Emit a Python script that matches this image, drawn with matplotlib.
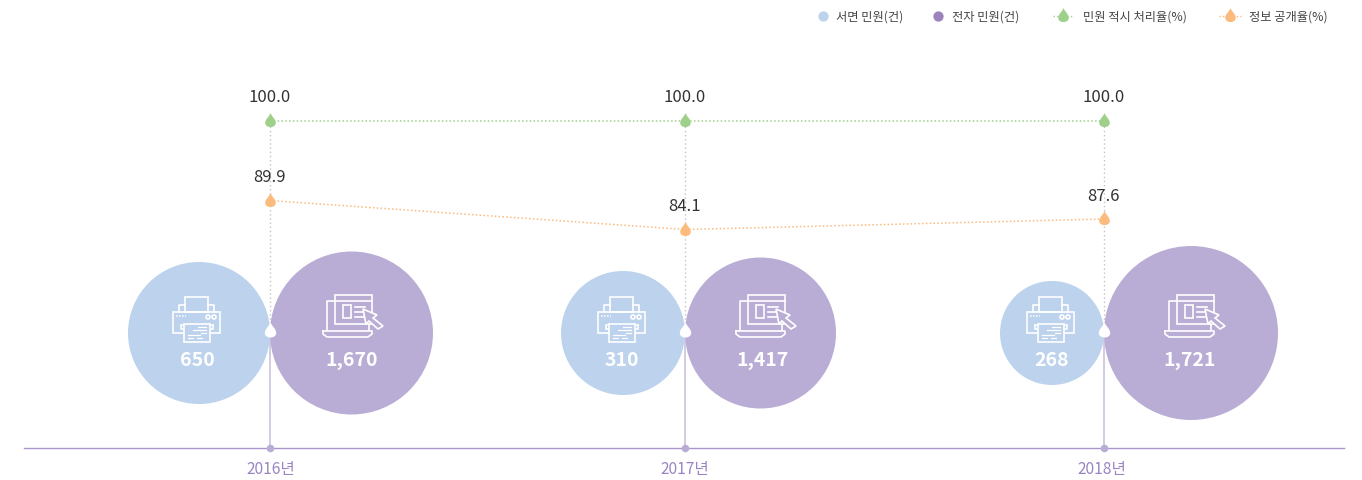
import numpy as np
import matplotlib
matplotlib.use("Agg")
import matplotlib.pyplot as plt
from matplotlib.patches import Circle, Polygon, Rectangle
from matplotlib.path import Path

plt.rcParams["font.family"] = ["Noto Sans CJK KR", "DejaVu Sans"]

# datos
years = ["2016년", "2017년", "2018년"]
paper = [650, 310, 268]
electronic = [1670, 1417, 1721]
on_time = [100.0, 100.0, 100.0]
disclosure = [89.9, 84.1, 87.6]

# colores
c_paper = "#bcd2ed"
c_elec = "#baadd5"
c_green = "#9fd08a"
c_orange = "#fbbb7e"
c_axis = "#ab94cb"
c_year = "#9a84c1"

# posiciones en pixeles de cada grupo
x_pos = [270, 685, 1104]
year_x = [271, 685, 1102]
base_y = 448
mid_y = 331
printer_x = [173, 598, 1027]
laptop_x = [323, 736, 1165]
paper_text_x = [197, 622, 1052]
elec_text_x = [352, 762, 1190]

# escalas (no lineales en el original)
radius_knots = ([268, 310, 650, 1417, 1670, 1721], [52, 62, 71, 75.5, 81.5, 87])
pct_vals = np.array([60, 84.1, 87.6, 89.9, 100, 115])
pct_px = np.array([481, 230.5, 220, 201.5, 121.5, 0])


def pct_forward(v):
    return -np.interp(v, pct_vals, pct_px)


def pct_inverse(p):
    return np.interp(p, -pct_px, pct_vals)


# gota con la punta hacia arriba, el punto de datos cae en el bulbo
drop = Path(
    [(0, 0.6), (-0.1, 0.36), (-0.38, 0.16), (-0.38, -0.1),
     (-0.38, -0.3), (-0.2, -0.4), (0, -0.4),
     (0.2, -0.4), (0.38, -0.3), (0.38, -0.1),
     (0.38, 0.16), (0.1, 0.36), (0, 0.6), (0, 0.6)],
    [Path.MOVETO, Path.CURVE4, Path.CURVE4, Path.CURVE4,
     Path.CURVE4, Path.CURVE4, Path.CURVE4,
     Path.CURVE4, Path.CURVE4, Path.CURVE4,
     Path.CURVE4, Path.CURVE4, Path.CURVE4, Path.CLOSEPOLY],
)


def draw_printer(ax, x0):
    kw = dict(fill=False, ec="white", lw=1.2, zorder=5)
    ax.add_patch(Rectangle((x0 + 12, 297), 23, 15, **kw))
    ax.plot([x0 + 6, x0 + 6, x0 + 12], [312, 305, 305], color="white", lw=1.2, zorder=5)
    ax.plot([x0 + 35, x0 + 41, x0 + 41], [305, 305, 312], color="white", lw=1.2, zorder=5)
    ax.add_patch(Rectangle((x0, 312), 47, 21, **kw))
    ax.add_patch(Rectangle((x0 + 8, 325), 32, 4, **kw))
    ax.add_patch(Rectangle((x0 + 11, 324), 26, 18, fc=c_paper, ec="white", lw=1.2, zorder=6))
    for dx in (35, 41):
        ax.add_patch(Circle((x0 + dx, 317), 2, **kw))
    ax.plot([x0 + 3, x0 + 13], [316, 316], color="white", lw=1.1, ls=(0, (1, 1)), zorder=5)
    for xa, xb, y in [(25, 33, 327), (20, 33, 330), (28, 33, 333), (15, 27, 335), (15, 20, 338), (24, 29, 338)]:
        ax.plot([x0 + xa, x0 + xb], [y, y], color="white", lw=0.9, zorder=7)


def draw_laptop(ax, x0):
    lw = 1.2
    ax.plot([x0 + 12, x0 + 4, x0 + 4], [301, 301, 330], color="white", lw=lw, zorder=5)
    ax.plot([x0 + 46, x0 + 46], [324, 330], color="white", lw=lw, zorder=5)
    ax.plot([x0, x0 + 49, x0 + 49, x0 + 45, x0 + 4, x0, x0],
            [331, 331, 334, 337, 337, 334, 331], color="white", lw=lw, zorder=5)
    ax.add_patch(Rectangle((x0 + 12, 294.5), 37, 29.5, fc=c_elec, ec="white", lw=lw, zorder=5))
    ax.plot([x0 + 12, x0 + 49], [301, 301], color="white", lw=lw, zorder=6)
    ax.add_patch(Rectangle((x0 + 20, 305), 8, 13, fill=False, ec="white", lw=lw, zorder=6))
    for y, xb in [(307, 42), (312, 42), (317, 42)]:
        ax.plot([x0 + 32, x0 + xb], [y, y], color="white", lw=lw, zorder=6)
    arrow = [(40, 309), (54, 315), (50, 318), (60, 326), (55, 329), (46, 321), (43, 324)]
    ax.add_patch(Polygon([(x0 + a, b) for a, b in arrow], closed=True, fc=c_elec, ec="white", lw=lw, zorder=7))


fig = plt.figure(figsize=(13.62, 4.81), dpi=100)
ax = fig.add_axes([0, 0, 1, 1])
ax.set_xlim(0, 1362)
ax.set_ylim(480, -1)
ax.axis("off")

# guias y eje
ax.plot([24, 1344], [base_y, base_y], color=c_axis, lw=1, zorder=1)
for i, x in enumerate(x_pos):
    ax.plot([x, x], [122, mid_y], color="#c4c0cc", lw=1, ls=(0, (1, 2)), zorder=1)
    ax.plot([x, x], [mid_y, base_y], color="#cfc8e2", lw=1.3, zorder=1)
    ax.scatter([x], [base_y], s=30, color=c_elec, zorder=2, linewidths=0)
    ax.text(year_x[i], 469, years[i], color=c_year, fontsize=11.2, ha="center", va="center")

# burbujas
for i, x in enumerate(x_pos):
    r1 = np.interp(paper[i], *radius_knots)
    r2 = np.interp(electronic[i], *radius_knots)
    ax.add_patch(Circle((x - r1, 333), r1, fc=c_paper, ec="none", zorder=3))
    ax.add_patch(Circle((x + r2, 333), r2, fc=c_elec, ec="none", zorder=3))
    draw_printer(ax, printer_x[i])
    draw_laptop(ax, laptop_x[i])
    ax.text(paper_text_x[i], 360, f"{paper[i]:,}", color="white", fontsize=14, fontweight="bold",
            ha="center", va="center", zorder=6)
    ax.text(elec_text_x[i], 360, f"{electronic[i]:,}", color="white", fontsize=14, fontweight="bold",
            ha="center", va="center", zorder=6)
    ax.plot([x], [mid_y], marker=drop, ms=13, color="white", mew=0, zorder=8)

# lineas de porcentaje
ax2 = ax.twinx()
ax2.set_yscale("function", functions=(pct_forward, pct_inverse))
ax2.set_ylim(60, 115)
ax2.axis("off")
for vals, col in [(on_time, c_green), (disclosure, c_orange)]:
    ax2.plot(x_pos, vals, color=col, lw=1.1, ls=(0, (1, 1.5)), zorder=4)
    ax2.plot(x_pos, vals, ls="none", marker=drop, ms=12, color=col, mew=0, zorder=5)
    for x, v in zip(x_pos, vals):
        ax2.annotate(f"{v:.1f}", (x, v), xytext=(0, 17), textcoords="offset points",
                     ha="center", va="center", fontsize=12, color="#333333")

# leyenda
ax.scatter([823], [16], s=55, color=c_paper, linewidths=0)
ax.text(836, 16, "서면 민원(건)", fontsize=8.8, color="#444444", va="center")
ax.scatter([938], [16], s=55, color="#9d83bd", linewidths=0)
ax.text(952, 16, "전자 민원(건)", fontsize=8.8, color="#444444", va="center")
ax.plot([1053, 1073], [16, 16], color=c_green, lw=1, ls=(0, (1, 1.5)))
ax.plot([1063], [16], marker=drop, ms=12, color=c_green, mew=0)
ax.text(1083, 16, "민원 적시 처리율(%)", fontsize=8.8, color="#444444", va="center")
ax.plot([1219, 1241], [16, 16], color=c_orange, lw=1, ls=(0, (1, 1.5)))
ax.plot([1230], [16], marker=drop, ms=12, color=c_orange, mew=0)
ax.text(1249, 16, "정보 공개율(%)", fontsize=8.8, color="#444444", va="center")

plt.savefig("out.png", dpi=100)
